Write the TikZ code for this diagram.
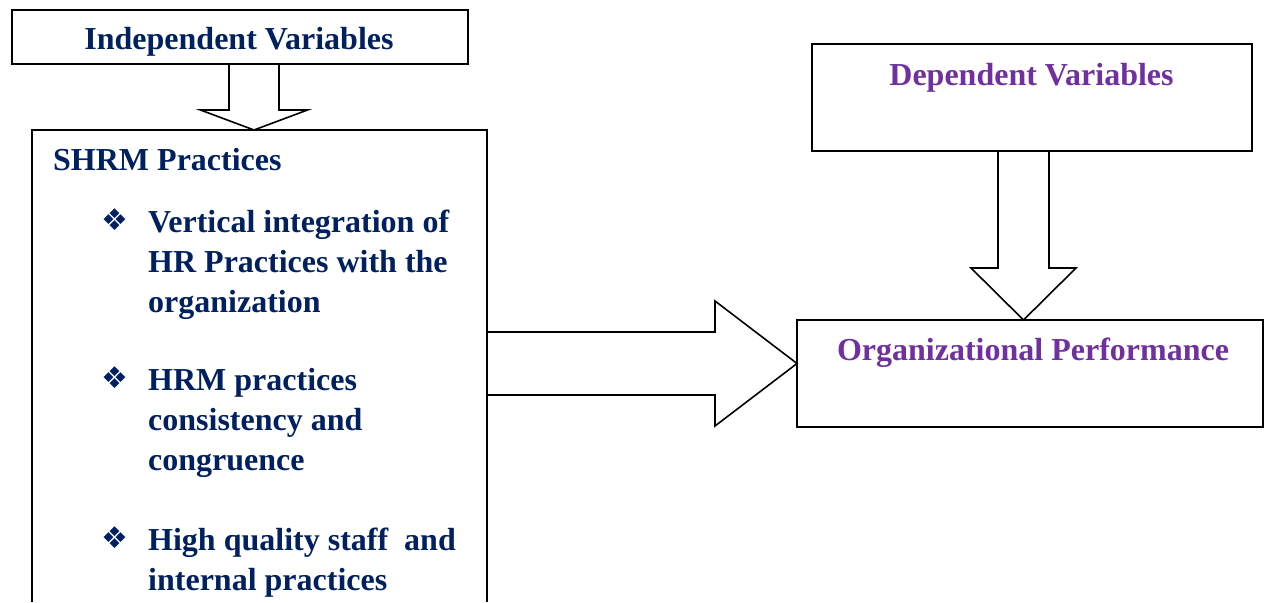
\documentclass[tikz,border=0pt]{standalone}
\usepackage{fontspec}
\setmainfont{Liberation Serif}
\newfontfamily\symfont{DejaVu Sans}
\usetikzlibrary{calc}
\definecolor{navytext}{HTML}{002060}
\definecolor{purpletext}{HTML}{7030A0}

\begin{document}
\begin{tikzpicture}[x=1pt,y=-1pt,
  box/.style={draw, line width=2pt, rectangle, inner sep=0pt, outer sep=0pt, anchor=north west},
  openframe/.style={rectangle, inner sep=0pt, outer sep=0pt, anchor=north west},
  blockarrow/.style={draw, line width=1.6pt, line join=miter},
  navylabel/.style={text=navytext, font=\bfseries\fontsize{32}{40}\selectfont, inner sep=0pt},
  purplelabel/.style={text=purpletext, font=\bfseries\fontsize{32}{40}\selectfont, inner sep=0pt},
  bulletmark/.style={text=navytext, font=\symfont\fontsize{30}{30}\selectfont, inner sep=0pt, anchor=base west}]
\useasboundingbox (0,0) rectangle (1265,602);

% boxes
\node[box, minimum width=456pt, minimum height=54pt] (iv) at (12,10) {};
\node[openframe, minimum width=455pt, minimum height=472pt] (shrm) at (32,130) {};
\draw[line width=2pt] (shrm.south west) -- (shrm.north west) -- (shrm.north east) -- (shrm.south east);
\node[box, minimum width=440pt, minimum height=107pt] (dv) at (812,44) {};
\node[box, minimum width=466pt, minimum height=107pt] (op) at (797,320) {};

% box texts
\node[navylabel, anchor=base] (ivtext) at (239,50) {Independent Variables};
\node[navylabel, anchor=base west] (shrmtitle) at (53,170) {SHRM Practices};
\node[purplelabel, anchor=base] (dvtext) at (1031.5,85) {Dependent Variables};
\node[purplelabel, anchor=base] (optext) at (1033,360) {Organizational Performance};

% bullet list
\node[bulletmark] (b1) at (101,230) {❖};
\node[bulletmark] (b2) at (101,388) {❖};
\node[bulletmark] (b3) at (101,548) {❖};
\node[navylabel, anchor=base west] (item1) at (148,232)
  {\parbox[t]{340pt}{\raggedright Vertical integration of\\HR Practices with the\\organization}};
\node[navylabel, anchor=base west] (item2) at (148,390)
  {\parbox[t]{340pt}{\raggedright HRM practices\\consistency and\\congruence}};
\node[navylabel, anchor=base west] (item3) at (148,550)
  {\parbox[t]{340pt}{\raggedright High quality staff~ and\\internal practices}};

% block arrows
\coordinate (a1s) at ($(iv.south west)+(242,0)$);
\draw[blockarrow] let \p1=(a1s), \p2=(a1s |- shrm.north) in
  (\x1-25pt,\y1) -- (\x1-25pt,\y2+20pt) -- (\x1-53.5pt,\y2+20pt) -- (\x2,\y2)
  -- (\x1+53.5pt,\y2+20pt) -- (\x1+25pt,\y2+20pt) -- (\x1+25pt,\y1);

\coordinate (a2s) at ($(dv.south west)+(211.5,0)$);
\draw[blockarrow] let \p1=(a2s), \p2=(a2s |- op.north) in
  (\x1-25.5pt,\y1) -- (\x1-25.5pt,\y2+52pt) -- (\x1-52.5pt,\y2+52pt) -- (\x2,\y2)
  -- (\x1+52.5pt,\y2+52pt) -- (\x1+25.5pt,\y2+52pt) -- (\x1+25.5pt,\y1);

\coordinate (a3s) at ($(shrm.north east)+(0,233.5)$);
\draw[blockarrow] let \p1=(a3s), \p2=(op.west |- a3s) in
  (\x1,\y1+31.5pt) -- (\x2-82pt,\y1+31.5pt) -- (\x2-82pt,\y1+62.5pt) -- (\x2,\y2)
  -- (\x2-82pt,\y1-62.5pt) -- (\x2-82pt,\y1-31.5pt) -- (\x1,\y1-31.5pt);
\end{tikzpicture}
\end{document}
